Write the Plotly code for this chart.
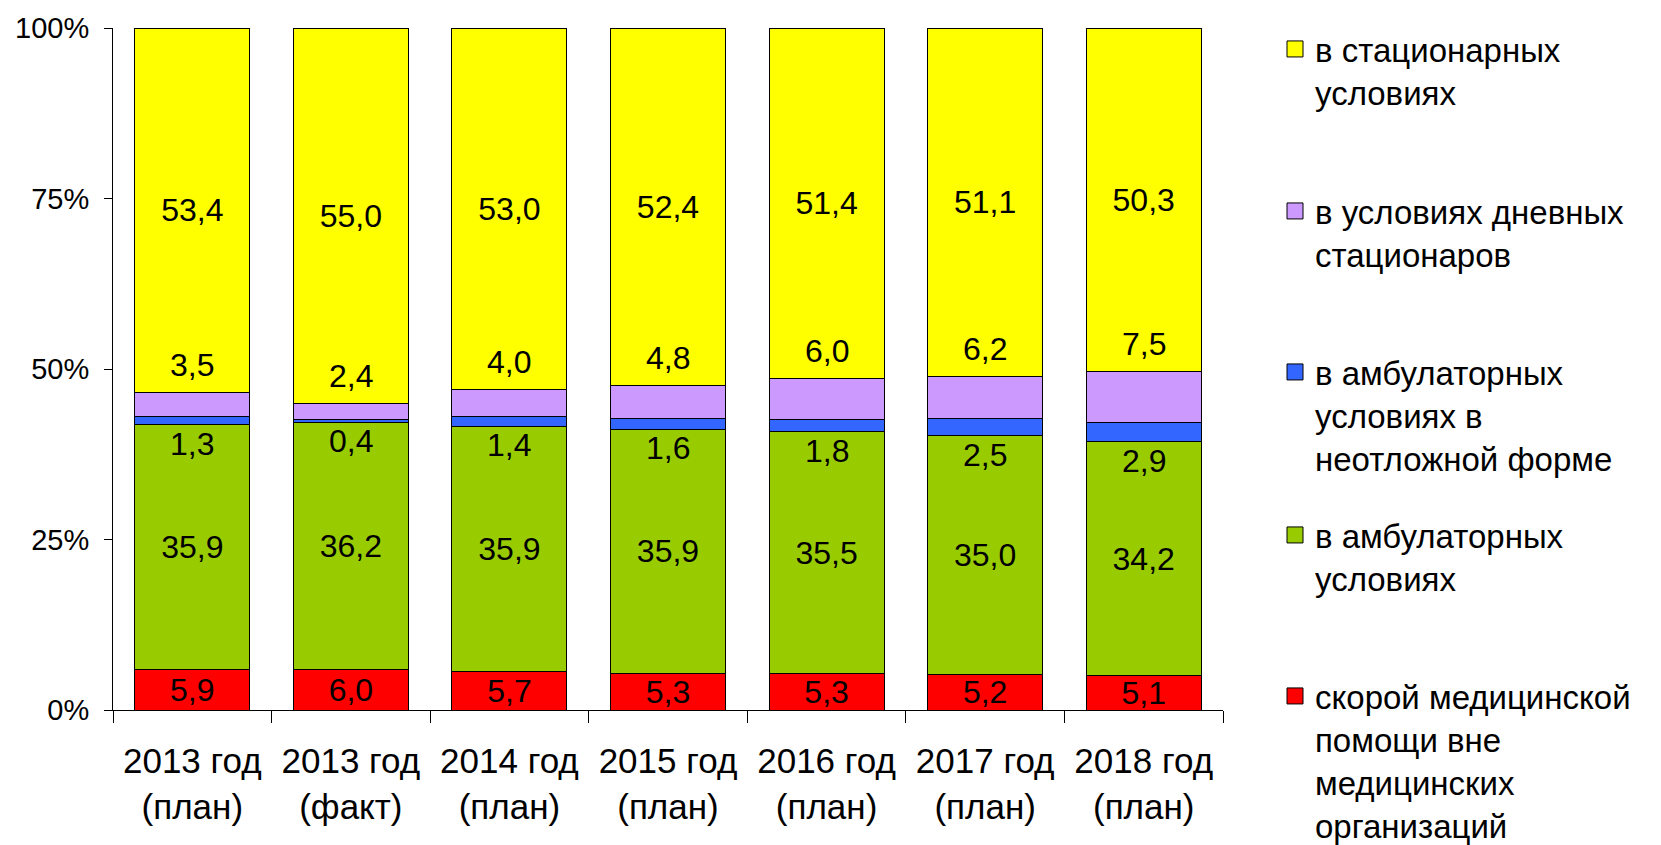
import plotly.graph_objects as go

categories = ["2013 год<br>(план)", "2013 год<br>(факт)", "2014 год<br>(план)", "2015 год<br>(план)",
              "2016 год<br>(план)", "2017 год<br>(план)", "2018 год<br>(план)"]
red = [5.9, 6.0, 5.7, 5.3, 5.3, 5.2, 5.1]
green = [35.9, 36.2, 35.9, 35.9, 35.5, 35.0, 34.2]
blue = [1.3, 0.4, 1.4, 1.6, 1.8, 2.5, 2.9]
purple = [3.5, 2.4, 4.0, 4.8, 6.0, 6.2, 7.5]
yellow = [53.4, 55.0, 53.0, 52.4, 51.4, 51.1, 50.3]
y_tickvals = [0, 25, 50, 75, 100]
y_ticktext = ["0%", "25%", "50%", "75%", "100%"]

names = {
    "yellow": "в стационарных<br>условиях",
    "purple": "в условиях дневных<br>стационаров",
    "blue": "в амбулаторных<br>условиях в<br>неотложной форме",
    "green": "в амбулаторных<br>условиях",
    "red": "скорой медицинской<br>помощи вне<br>медицинских<br>организаций",
}
colors = {"red": "#FF0000", "green": "#99CC00", "blue": "#3366FF", "purple": "#CC99FF", "yellow": "#FFFF00"}

FONT = "Liberation Sans, Arial, sans-serif"
PAGE_OFFSET = 8  # default body margin of the html page

fig = go.Figure()

series = [("red", red, True), ("green", green, True), ("blue", blue, False),
          ("purple", purple, False), ("yellow", yellow, True)]
for key, vals, inside in series:
    fig.add_trace(go.Bar(
        x=categories, y=vals, name=names[key], legendgroup=key, showlegend=False,
        marker=dict(color=colors[key], line=dict(color="black", width=1)),
        text=[f"{v:.1f}".replace(".", ",") for v in vals] if inside else None,
        textposition="inside" if inside else "none", insidetextanchor="middle",
        constraintext="none", textangle=0,
        textfont=dict(family=FONT, size=32, color="black"),
        hoverinfo="skip",
    ))

# Legend proxies (top to bottom), each in its own legend box
legend_order = ["yellow", "purple", "blue", "green", "red"]
marker_px = [50, 212, 373, 536, 697]   # screen y of legend symbols
plot_top, plot_bottom = 28, 710        # screen y of plot area
plot_left, plot_right = 113, 1223      # screen x of plot area
for i, key in enumerate(legend_order):
    lg = "legend" if i == 0 else f"legend{i+1}"
    fig.add_trace(go.Scatter(
        x=[None], y=[None], mode="markers", name=names[key], legendgroup=key, legend=lg,
        marker=dict(symbol="square", size=16, color=colors[key], line=dict(color="black", width=1)),
        showlegend=True,
    ))

# labels for thin segments
annotations = []
for i, c in enumerate(categories):
    green_top = red[i] + green[i]
    purple_top = green_top + blue[i] + purple[i]
    annotations.append(dict(x=c, y=green_top - 2.8, text=f"{blue[i]:.1f}".replace(".", ","),
                            showarrow=False, font=dict(family=FONT, size=32, color="black"),
                            xref="x", yref="y"))
    annotations.append(dict(x=c, y=purple_top + 4.0, text=f"{purple[i]:.1f}".replace(".", ","),
                            showarrow=False, font=dict(family=FONT, size=32, color="black"),
                            xref="x", yref="y"))

layout_legends = {}
for i, key in enumerate(legend_order):
    lg = "legend" if i == 0 else f"legend{i+1}"
    top_px = marker_px[i] - 29
    layout_legends[lg] = dict(
        x=(1275 - plot_left) / (plot_right - plot_left), xanchor="left",
        y=(plot_bottom - top_px) / (plot_bottom - plot_top), yanchor="top",
        valign="top", font=dict(family=FONT, size=33, color="black"),
        bgcolor="rgba(0,0,0,0)", borderwidth=0, itemclick=False, itemdoubleclick=False,
    )

W, H = 1661 - PAGE_OFFSET, 845 - PAGE_OFFSET
fig.update_layout(
    barmode="stack", bargap=0.275,
    width=W, height=H,
    margin=dict(l=plot_left - PAGE_OFFSET, r=W - (plot_right - PAGE_OFFSET),
                t=plot_top - PAGE_OFFSET, b=H - (plot_bottom - PAGE_OFFSET), autoexpand=False),
    paper_bgcolor="white", plot_bgcolor="white",
    font=dict(family=FONT, color="black"),
    annotations=annotations,
    showlegend=True,
    **layout_legends,
)
fig.update_yaxes(range=[0, 100], tickmode="array", tickvals=y_tickvals, ticktext=y_ticktext,
                 showgrid=False, zeroline=False, showline=True, linecolor="black", linewidth=1,
                 ticks="outside", ticklen=8, tickcolor="black", ticklabelstandoff=9,
                 tickfont=dict(family=FONT, size=29, color="black"))
fig.update_xaxes(showgrid=False, showline=True, linecolor="black", linewidth=1,
                 ticks="outside", ticklen=12, tickcolor="black", tickson="boundaries",
                 ticklabelstandoff=20,
                 tickfont=dict(family=FONT, size=35, color="black"))

fig.write_html("out.html")
